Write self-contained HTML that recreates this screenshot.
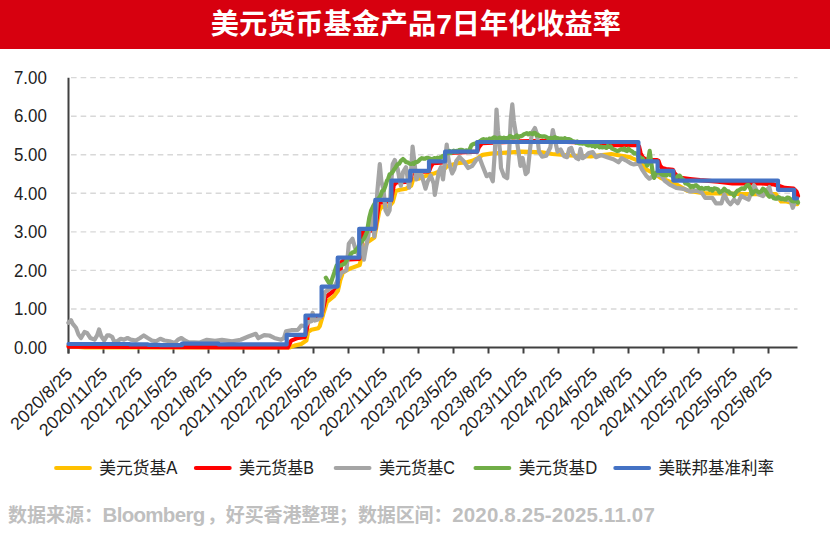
<!DOCTYPE html>
<html lang="zh-CN"><head><meta charset="utf-8"><title>美元货币基金产品7日年化收益率</title>
<style>
html,body{margin:0;padding:0;background:#fff}
body{width:830px;height:536px;overflow:hidden}
svg text{font-family:"Liberation Sans","Noto Sans CJK SC",sans-serif}
</style></head><body>
<svg width="830" height="536" viewBox="0 0 830 536" style="display:block">
<rect width="830" height="536" fill="#fff"/>
<rect width="830" height="49" fill="#D7000F"/>
<text x="415.8" y="34" text-anchor="middle" font-size="28" font-weight="bold" fill="#fff" textLength="410" lengthAdjust="spacingAndGlyphs">美元货币基金产品7日年化收益率</text>
<line x1="69" x2="797.5" y1="308.95" y2="308.95" stroke="#D8D8D8" stroke-width="1.4" stroke-dasharray="5.6 4.04" stroke-dashoffset="-2"/>
<line x1="69" x2="797.5" y1="270.40" y2="270.40" stroke="#D8D8D8" stroke-width="1.4" stroke-dasharray="5.6 4.04" stroke-dashoffset="-2"/>
<line x1="69" x2="797.5" y1="231.85" y2="231.85" stroke="#D8D8D8" stroke-width="1.4" stroke-dasharray="5.6 4.04" stroke-dashoffset="-2"/>
<line x1="69" x2="797.5" y1="193.30" y2="193.30" stroke="#D8D8D8" stroke-width="1.4" stroke-dasharray="5.6 4.04" stroke-dashoffset="-2"/>
<line x1="69" x2="797.5" y1="154.75" y2="154.75" stroke="#D8D8D8" stroke-width="1.4" stroke-dasharray="5.6 4.04" stroke-dashoffset="-2"/>
<line x1="69" x2="797.5" y1="116.20" y2="116.20" stroke="#D8D8D8" stroke-width="1.4" stroke-dasharray="5.6 4.04" stroke-dashoffset="-2"/>
<line x1="69" x2="797.5" y1="77.65" y2="77.65" stroke="#D8D8D8" stroke-width="1.4" stroke-dasharray="5.6 4.04" stroke-dashoffset="-2"/>
<line x1="68.5" x2="68.5" y1="77.7" y2="353.5" stroke="#404040" stroke-width="2"/>
<line x1="67.75" x2="797.5" y1="347.5" y2="347.5" stroke="#404040" stroke-width="2"/>
<line x1="68.5" x2="68.5" y1="347.5" y2="353.5" stroke="#404040" stroke-width="2"/>
<line x1="103.5" x2="103.5" y1="347.5" y2="353.5" stroke="#404040" stroke-width="2"/>
<line x1="138.5" x2="138.5" y1="347.5" y2="353.5" stroke="#404040" stroke-width="2"/>
<line x1="173.5" x2="173.5" y1="347.5" y2="353.5" stroke="#404040" stroke-width="2"/>
<line x1="208.5" x2="208.5" y1="347.5" y2="353.5" stroke="#404040" stroke-width="2"/>
<line x1="243.5" x2="243.5" y1="347.5" y2="353.5" stroke="#404040" stroke-width="2"/>
<line x1="278.5" x2="278.5" y1="347.5" y2="353.5" stroke="#404040" stroke-width="2"/>
<line x1="313.5" x2="313.5" y1="347.5" y2="353.5" stroke="#404040" stroke-width="2"/>
<line x1="348.5" x2="348.5" y1="347.5" y2="353.5" stroke="#404040" stroke-width="2"/>
<line x1="383.5" x2="383.5" y1="347.5" y2="353.5" stroke="#404040" stroke-width="2"/>
<line x1="418.5" x2="418.5" y1="347.5" y2="353.5" stroke="#404040" stroke-width="2"/>
<line x1="453.5" x2="453.5" y1="347.5" y2="353.5" stroke="#404040" stroke-width="2"/>
<line x1="488.5" x2="488.5" y1="347.5" y2="353.5" stroke="#404040" stroke-width="2"/>
<line x1="523.5" x2="523.5" y1="347.5" y2="353.5" stroke="#404040" stroke-width="2"/>
<line x1="558.5" x2="558.5" y1="347.5" y2="353.5" stroke="#404040" stroke-width="2"/>
<line x1="593.5" x2="593.5" y1="347.5" y2="353.5" stroke="#404040" stroke-width="2"/>
<line x1="628.5" x2="628.5" y1="347.5" y2="353.5" stroke="#404040" stroke-width="2"/>
<line x1="663.5" x2="663.5" y1="347.5" y2="353.5" stroke="#404040" stroke-width="2"/>
<line x1="698.5" x2="698.5" y1="347.5" y2="353.5" stroke="#404040" stroke-width="2"/>
<line x1="733.5" x2="733.5" y1="347.5" y2="353.5" stroke="#404040" stroke-width="2"/>
<line x1="768.5" x2="768.5" y1="347.5" y2="353.5" stroke="#404040" stroke-width="2"/>
<text transform="translate(46.8,353.7) scale(0.965,1)" text-anchor="end" font-size="17.5" fill="#222">0.00</text>
<text transform="translate(46.8,315.1) scale(0.965,1)" text-anchor="end" font-size="17.5" fill="#222">1.00</text>
<text transform="translate(46.8,276.6) scale(0.965,1)" text-anchor="end" font-size="17.5" fill="#222">2.00</text>
<text transform="translate(46.8,238.1) scale(0.965,1)" text-anchor="end" font-size="17.5" fill="#222">3.00</text>
<text transform="translate(46.8,199.5) scale(0.965,1)" text-anchor="end" font-size="17.5" fill="#222">4.00</text>
<text transform="translate(46.8,160.9) scale(0.965,1)" text-anchor="end" font-size="17.5" fill="#222">5.00</text>
<text transform="translate(46.8,122.4) scale(0.965,1)" text-anchor="end" font-size="17.5" fill="#222">6.00</text>
<text transform="translate(46.8,83.9) scale(0.965,1)" text-anchor="end" font-size="17.5" fill="#222">7.00</text>
<text transform="translate(73.5,375) rotate(-45) scale(1.02,1)" text-anchor="end" font-size="17.5" fill="#222">2020/8/25</text>
<text transform="translate(108.5,375) rotate(-45) scale(1.02,1)" text-anchor="end" font-size="17.5" fill="#222">2020/11/25</text>
<text transform="translate(143.5,375) rotate(-45) scale(1.02,1)" text-anchor="end" font-size="17.5" fill="#222">2021/2/25</text>
<text transform="translate(178.5,375) rotate(-45) scale(1.02,1)" text-anchor="end" font-size="17.5" fill="#222">2021/5/25</text>
<text transform="translate(213.5,375) rotate(-45) scale(1.02,1)" text-anchor="end" font-size="17.5" fill="#222">2021/8/25</text>
<text transform="translate(248.5,375) rotate(-45) scale(1.02,1)" text-anchor="end" font-size="17.5" fill="#222">2021/11/25</text>
<text transform="translate(283.5,375) rotate(-45) scale(1.02,1)" text-anchor="end" font-size="17.5" fill="#222">2022/2/25</text>
<text transform="translate(318.5,375) rotate(-45) scale(1.02,1)" text-anchor="end" font-size="17.5" fill="#222">2022/5/25</text>
<text transform="translate(353.5,375) rotate(-45) scale(1.02,1)" text-anchor="end" font-size="17.5" fill="#222">2022/8/25</text>
<text transform="translate(388.5,375) rotate(-45) scale(1.02,1)" text-anchor="end" font-size="17.5" fill="#222">2022/11/25</text>
<text transform="translate(423.5,375) rotate(-45) scale(1.02,1)" text-anchor="end" font-size="17.5" fill="#222">2023/2/25</text>
<text transform="translate(458.5,375) rotate(-45) scale(1.02,1)" text-anchor="end" font-size="17.5" fill="#222">2023/5/25</text>
<text transform="translate(493.5,375) rotate(-45) scale(1.02,1)" text-anchor="end" font-size="17.5" fill="#222">2023/8/25</text>
<text transform="translate(528.5,375) rotate(-45) scale(1.02,1)" text-anchor="end" font-size="17.5" fill="#222">2023/11/25</text>
<text transform="translate(563.5,375) rotate(-45) scale(1.02,1)" text-anchor="end" font-size="17.5" fill="#222">2024/2/25</text>
<text transform="translate(598.5,375) rotate(-45) scale(1.02,1)" text-anchor="end" font-size="17.5" fill="#222">2024/5/25</text>
<text transform="translate(633.5,375) rotate(-45) scale(1.02,1)" text-anchor="end" font-size="17.5" fill="#222">2024/8/25</text>
<text transform="translate(668.5,375) rotate(-45) scale(1.02,1)" text-anchor="end" font-size="17.5" fill="#222">2024/11/25</text>
<text transform="translate(703.5,375) rotate(-45) scale(1.02,1)" text-anchor="end" font-size="17.5" fill="#222">2025/2/25</text>
<text transform="translate(738.5,375) rotate(-45) scale(1.02,1)" text-anchor="end" font-size="17.5" fill="#222">2025/5/25</text>
<text transform="translate(773.5,375) rotate(-45) scale(1.02,1)" text-anchor="end" font-size="17.5" fill="#222">2025/8/25</text>
<polyline points="68.5,345.6 75.0,346.7 85.0,347.5 289.5,347.5 294.5,345.6 301.3,344.0 306.4,340.6 308.0,332.1 311.4,329.8 318.2,328.2 319.7,326.3 323.3,314.0 327.0,302.0 334.3,295.8 337.9,290.8 340.3,280.0 342.8,272.7 346.4,270.4 351.2,268.1 359.7,265.0 362.2,253.4 367.0,242.6 374.3,237.6 376.3,226.8 379.4,210.3 381.4,207.2 389.6,206.0 392.7,202.2 395.8,191.0 399.9,189.8 406.0,188.7 411.2,185.6 413.2,179.4 418.4,178.7 426.6,175.6 434.8,173.3 443.0,170.2 447.1,166.3 457.3,163.2 467.6,162.1 472.3,160.9 478.5,157.8 482.6,154.8 490.8,153.6 511.3,152.4 521.6,151.7 542.1,152.4 552.3,154.0 570.0,155.5 590.8,156.3 611.3,154.0 620.0,155.5 629.8,157.1 632.9,158.6 638.0,160.5 642.0,164.8 646.2,169.4 655.0,174.0 660.6,177.9 665.0,179.8 676.3,184.4 687.1,190.6 705.2,193.3 717.8,193.3 746.8,194.1 775.7,194.1 778.0,197.2 781.1,201.4 786.5,201.4 797.4,204.1" fill="none" stroke="#FFC000" stroke-width="4.2" stroke-linejoin="round" stroke-linecap="round"/>
<polyline points="68.5,346.7 287.8,347.5 291.2,340.6 298.0,337.9 304.7,337.1 307.0,328.2 308.5,317.4 321.0,316.7 323.0,308.9 325.8,297.0 331.8,292.4 336.7,285.0 340.3,272.7 341.5,261.9 345.0,259.6 359.5,258.8 361.0,247.3 363.0,231.9 375.0,229.9 377.0,216.4 379.0,202.9 391.0,201.0 393.7,185.6 396.0,182.5 410.0,181.7 412.0,174.0 414.0,172.1 429.0,171.3 431.0,166.3 433.0,163.2 445.0,162.5 447.0,154.8 449.0,152.8 477.0,151.7 479.0,147.0 482.0,143.2 520.0,141.3 545.0,140.9 560.0,141.6 600.0,143.2 613.0,145.1 632.0,145.1 637.5,145.1 639.0,146.3 640.5,152.8 642.5,157.1 645.0,159.0 650.0,159.8 657.0,160.1 658.5,160.9 660.0,165.5 662.0,167.9 666.0,169.0 673.0,169.8 674.5,173.3 677.0,176.0 681.0,177.9 690.0,179.0 700.0,180.2 717.8,181.7 732.3,183.3 761.2,183.3 773.9,184.4 779.3,186.0 784.7,187.9 793.7,188.7 796.5,191.4 798.0,196.0" fill="none" stroke="#FF0000" stroke-width="4.2" stroke-linejoin="round" stroke-linecap="round"/>
<polyline points="68.4,322.8 71.0,320.2 72.6,323.6 76.0,327.8 78.5,334.6 81.0,338.0 84.5,332.0 87.0,332.9 90.4,338.0 94.6,339.6 97.1,335.4 99.1,329.5 101.3,336.3 104.2,340.5 107.2,335.4 109.7,335.4 112.3,337.1 114.0,341.3 117.3,341.3 120.7,338.8 124.0,339.6 127.5,338.0 130.8,339.6 135.9,340.5 140.1,338.0 143.8,335.4 147.7,338.0 151.9,340.5 156.1,341.3 160.3,338.8 164.5,340.5 169.6,341.3 174.7,343.0 178.0,339.6 181.4,338.0 184.8,340.5 188.2,342.2 200.0,342.5 206.9,339.8 215.0,340.9 222.0,339.8 232.0,341.3 240.6,339.8 249.0,336.3 255.8,333.8 258.3,338.2 264.2,335.2 269.3,335.5 274.3,337.9 281.0,339.8 284.0,337.9 286.0,331.3 291.2,330.2 298.0,329.8 301.3,325.5 305.5,326.3 308.0,322.1 311.4,321.3 312.6,312.8 314.8,320.5 318.2,319.4 321.5,315.9 323.0,305.1 324.6,292.4 328.2,289.7 335.0,285.8 341.5,272.7 346.4,270.4 347.5,258.8 348.8,243.8 352.5,238.8 354.9,247.3 358.5,255.0 361.0,241.5 363.9,259.6 366.0,247.3 368.2,236.5 370.7,217.2 372.0,210.6 374.3,236.5 376.0,216.4 377.3,191.8 379.8,164.1 381.4,181.6 383.5,189.8 385.5,210.3 387.6,214.4 389.6,210.3 391.0,185.0 392.7,164.1 394.8,160.0 397.8,169.3 399.9,181.6 400.9,185.7 403.0,172.0 406.0,167.2 409.1,187.7 411.0,172.0 412.6,146.7 414.3,161.0 416.3,179.5 420.4,171.3 423.5,181.6 425.5,188.7 427.6,181.6 430.7,175.4 433.7,183.6 434.8,194.9 436.8,183.6 438.9,171.3 440.9,167.2 443.0,179.5 445.0,161.0 446.7,144.6 448.1,156.9 450.2,167.2 452.2,173.4 454.3,169.3 456.3,161.0 459.4,156.9 463.5,161.0 468.2,168.0 472.3,165.9 476.4,159.8 479.5,157.7 482.6,165.9 486.7,176.2 489.7,174.0 492.8,181.3 494.9,151.0 496.5,109.5 498.0,131.0 500.0,151.6 501.0,168.0 504.1,176.2 507.2,178.2 509.2,151.0 510.7,120.8 512.3,104.4 513.8,120.8 516.4,137.2 518.5,151.6 520.5,165.9 522.6,158.0 525.7,174.1 527.7,172.0 529.8,151.6 531.8,133.1 534.9,128.0 537.0,134.1 539.0,151.6 542.1,156.7 546.2,155.7 550.3,147.5 552.8,130.0 554.8,139.3 557.5,151.6 560.6,149.5 564.1,156.2 567.0,157.2 569.2,149.0 571.3,148.0 573.3,154.1 576.4,158.2 578.5,159.2 580.5,149.0 582.6,158.2 585.6,156.2 588.7,153.1 592.8,152.1 595.9,157.2 601.0,155.1 607.2,157.2 613.4,159.3 618.5,162.3 621.6,158.2 625.7,160.3 630.8,163.4 633.9,164.4 639.0,163.4 642.1,169.5 646.2,175.7 649.3,178.7 653.0,176.0 660.6,174.6 664.7,180.8 668.8,183.9 670.8,185.2 676.3,187.9 683.5,188.8 690.7,191.5 696.1,190.6 701.6,192.4 705.2,197.8 712.4,197.8 716.0,203.3 721.4,203.3 724.2,194.2 727.8,201.4 730.5,204.2 734.1,199.6 737.7,203.3 741.3,196.0 745.0,197.8 748.6,199.6 751.5,192.0 754.0,185.2 758.5,194.2 763.0,196.0 766.6,190.6 769.3,187.0 771.0,194.0 775.0,198.0 785.0,199.5 790.5,200.5 792.8,207.8 794.6,203.3 797.5,201.0" fill="none" stroke="#A5A5A5" stroke-width="4.2" stroke-linejoin="round" stroke-linecap="round"/>
<polyline points="325.8,277.7 327.4,280.3 329.0,282.8 330.6,283.9 332.5,277.9 334.3,272.7 336.7,265.4 338.3,266.5 339.9,265.3 341.5,265.4 343.1,264.2 344.8,263.5 346.4,260.8 348.0,258.3 349.6,257.1 351.2,253.4 352.8,252.3 354.5,252.0 356.1,249.6 357.6,248.6 359.1,245.5 360.7,242.3 362.2,241.1 363.8,239.0 365.4,235.7 367.0,231.9 369.4,217.2 371.2,210.3 373.1,206.3 375.0,202.9 376.4,200.0 377.7,199.3 379.0,198.0 380.4,196.0 382.1,191.2 383.8,190.3 385.5,185.6 386.9,180.9 388.2,178.7 389.6,174.4 391.2,173.5 392.7,171.8 394.2,169.4 395.8,167.1 397.5,164.2 399.2,163.8 400.9,160.9 403.0,159.0 404.5,160.3 406.0,162.1 407.7,162.3 409.5,163.7 411.2,164.0 412.6,163.2 413.9,163.9 415.3,162.1 417.0,162.2 418.7,160.8 420.4,159.0 421.9,158.2 423.5,158.6 425.1,158.6 426.6,157.8 428.1,157.9 429.6,158.5 431.2,159.2 432.7,159.0 434.4,158.0 436.0,158.6 437.3,157.7 438.7,158.7 440.0,157.4 441.3,157.3 442.7,156.0 444.0,156.7 445.5,154.1 447.0,152.8 448.3,153.1 449.7,150.9 451.0,153.0 452.3,151.8 453.7,150.6 455.0,152.0 456.3,150.8 457.7,151.7 459.0,150.1 460.5,149.9 462.0,149.8 463.5,150.5 465.0,150.9 466.6,150.3 468.2,151.7 469.8,149.1 471.3,145.5 472.9,144.2 474.4,143.7 476.0,143.2 477.5,142.2 479.0,141.8 480.5,140.9 482.0,139.7 483.4,139.1 484.9,140.1 486.4,139.3 487.9,140.7 489.3,138.7 490.8,138.9 492.3,138.4 493.7,137.3 495.2,137.6 496.6,138.9 498.1,138.4 499.5,137.5 501.0,137.8 502.5,138.9 503.9,137.6 505.4,138.2 506.9,138.2 508.4,138.2 509.8,136.1 511.3,136.6 512.7,137.6 514.1,137.2 515.5,136.8 516.8,135.4 518.2,137.5 519.6,136.4 521.0,136.2 522.5,135.6 523.9,134.2 525.4,133.8 526.9,133.2 528.3,134.3 529.8,133.2 531.2,133.6 532.5,134.1 533.9,132.9 535.3,133.0 536.6,135.4 538.0,134.7 539.4,136.0 540.7,136.2 542.1,136.6 543.5,136.3 544.8,136.4 546.2,137.0 547.7,137.9 549.1,138.8 550.6,137.9 552.1,138.3 553.6,137.9 555.0,137.1 556.5,138.6 557.9,138.2 559.3,138.7 560.7,138.6 562.0,138.5 563.4,140.3 564.8,138.1 566.2,139.3 567.7,139.0 569.1,139.1 570.5,139.7 572.0,140.9 573.3,141.4 574.6,141.6 575.9,142.6 577.2,141.4 578.5,143.2 579.8,143.4 581.1,143.3 582.4,143.6 583.7,143.4 585.0,143.2 586.5,144.8 587.9,145.3 589.3,145.3 590.8,144.7 592.3,146.1 593.7,145.6 595.2,146.8 596.6,144.8 598.1,145.8 599.5,147.3 601.0,146.7 602.3,147.4 603.7,147.2 605.0,147.2 606.3,147.9 607.7,146.0 609.0,147.0 610.6,146.5 612.2,148.7 613.8,149.4 615.4,150.1 617.0,151.0 618.5,150.6 620.0,149.7 621.6,149.0 623.0,149.8 624.3,148.5 625.7,150.5 627.1,151.0 628.4,148.7 629.8,150.1 631.3,151.0 632.9,152.1 634.3,153.6 635.6,153.2 637.0,154.0 638.5,156.8 640.0,157.1 641.4,158.4 642.7,158.6 644.1,161.3 645.7,162.4 647.2,165.5 649.7,150.9 651.3,163.2 653.0,174.0 654.2,177.9 655.5,174.0 657.0,172.1 658.8,172.3 660.6,173.6 662.0,174.7 663.3,174.8 664.7,174.8 666.2,175.6 667.7,173.8 669.2,174.4 670.5,175.1 671.8,175.2 673.1,177.2 674.4,178.2 675.7,178.3 677.7,176.1 679.6,175.6 682.0,178.7 683.6,179.7 685.3,183.3 686.6,183.3 688.0,184.4 689.4,185.3 690.7,187.1 692.1,186.0 693.4,186.9 694.8,185.6 696.1,185.2 697.5,186.3 698.9,187.8 700.2,188.5 701.6,187.9 703.0,188.7 704.3,188.9 705.6,188.0 707.0,188.7 708.4,187.9 709.7,189.8 711.0,188.9 712.4,190.6 714.2,188.3 716.0,188.7 717.8,189.4 719.6,192.5 721.1,191.6 722.7,190.7 724.2,188.7 725.7,190.3 727.2,191.3 728.7,191.4 730.1,193.3 731.4,193.4 732.8,193.8 734.1,196.0 735.9,192.4 737.7,190.6 739.1,190.2 740.4,189.2 741.8,188.3 743.1,188.7 744.5,188.9 745.9,186.5 747.2,185.0 748.6,185.2 750.4,188.9 752.2,194.1 754.0,191.7 755.8,190.6 757.6,191.6 759.4,192.5 761.2,191.5 763.0,188.7 764.8,189.8 766.6,192.5 768.0,195.1 769.3,196.8 770.8,196.5 772.4,196.5 773.9,198.3 775.4,198.6 776.9,198.6 778.4,197.1 779.9,197.7 781.4,199.2 782.9,198.3 784.3,199.4 785.8,199.4 787.2,197.5 788.7,197.8 790.1,198.7 791.9,201.0 793.7,201.4 795.1,200.9 796.6,200.9 798.0,202.6" fill="none" stroke="#70AD47" stroke-width="4.2" stroke-linejoin="round" stroke-linecap="round"/>
<polyline points="68.5,344.0 129.9,344.0 129.9,344.4 147.9,344.4 147.9,344.8 159.8,344.8 159.8,345.2 182.0,345.2 182.0,343.6 218.4,343.6 218.4,344.4 286.7,344.4 286.7,334.8 305.5,334.8 305.5,315.5 321.6,315.5 321.6,286.6 337.7,286.6 337.7,257.7 359.2,257.7 359.2,228.8 375.3,228.8 375.3,199.9 391.4,199.9 391.4,180.6 410.2,180.6 410.2,170.9 429.0,170.9 429.0,161.3 445.1,161.3 445.1,151.7 477.3,151.7 477.3,142.0 638.4,142.0 638.4,161.3 657.6,161.3 657.6,170.9 673.3,170.9 673.3,180.6 778.0,180.6 778.0,189.8 794.1,189.8 794.1,198.3 797.1,198.3" fill="none" stroke="#4472C4" stroke-width="4.2" stroke-linejoin="round" stroke-linecap="round"/>
<line x1="56.0" x2="90.0" y1="468" y2="468" stroke="#FFC000" stroke-width="3.8" stroke-linecap="round"/>
<text x="99.3" y="474.3" font-size="17.5" fill="#222" textLength="78" lengthAdjust="spacingAndGlyphs">美元货基A</text>
<line x1="195.8" x2="229.8" y1="468" y2="468" stroke="#FF0000" stroke-width="3.8" stroke-linecap="round"/>
<text x="239.1" y="474.3" font-size="17.5" fill="#222" textLength="75" lengthAdjust="spacingAndGlyphs">美元货基B</text>
<line x1="335.6" x2="369.6" y1="468" y2="468" stroke="#A5A5A5" stroke-width="3.8" stroke-linecap="round"/>
<text x="378.9" y="474.3" font-size="17.5" fill="#222" textLength="76" lengthAdjust="spacingAndGlyphs">美元货基C</text>
<line x1="475.4" x2="509.4" y1="468" y2="468" stroke="#70AD47" stroke-width="3.8" stroke-linecap="round"/>
<text x="518.7" y="474.3" font-size="17.5" fill="#222" textLength="78.5" lengthAdjust="spacingAndGlyphs">美元货基D</text>
<line x1="615.2" x2="649.2" y1="468" y2="468" stroke="#4472C4" stroke-width="3.8" stroke-linecap="round"/>
<text x="658.5" y="474.3" font-size="17.5" fill="#222" textLength="115.5" lengthAdjust="spacingAndGlyphs">美联邦基准利率</text>
<text y="522" font-size="19" font-weight="bold" fill="#BFBFBF" lengthAdjust="spacingAndGlyphs"><tspan x="7.9" textLength="95">数据来源：</tspan><tspan x="102.6" font-size="20.5" textLength="102.6">Bloomberg</tspan><tspan x="207" textLength="245.4">，好买香港整理；数据区间：</tspan><tspan x="452.2" font-size="20.5" textLength="202.6">2020.8.25-2025.11.07</tspan></text>
</svg>
</body></html>
